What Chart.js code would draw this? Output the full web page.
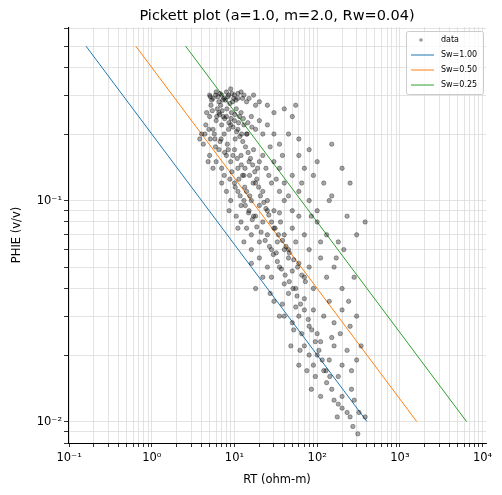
<!DOCTYPE html>
<html><head><meta charset="utf-8">
<script src="https://cdn.jsdelivr.net/npm/chart.js@4"></script>
<style>html,body{margin:0;padding:0;background:#fff}#w{width:502px;height:495px}</style>
</head><body><div id="w"><canvas id="c"></canvas></div>
<script>
const dataRT_PHIE = [
[5,0.3],[5.5,0.29],[6,0.31],[6.5,0.28],[7,0.3],[7.5,0.29],[8,0.31],[8.5,0.3],[9,0.32],[10,0.3],[11,0.29],[12,0.31],[13,0.3],[15,0.29],[17,0.3],[20,0.28],[25,0.27],[30,0.25],[40,0.26],[50,0.24],[55,0.27],[18,0.27],[14,0.28],[9.5,0.28],[6.8,0.27],[5.2,0.27],
[4,0.2],[4.5,0.22],[5,0.24],[5.5,0.21],[6,0.23],[6.5,0.25],[7,0.22],[7.5,0.2],[8,0.24],[9,0.22],[10,0.23],[11,0.21],[12,0.25],[13,0.22],[14,0.2],[16,0.24],[18,0.21],[20,0.23],[22,0.2],[25,0.22],[30,0.2],[35,0.18],[45,0.2],[60,0.19],[80,0.17],[100,0.15],[4.2,0.18],[3.8,0.19],[5.8,0.19],[8.5,0.21],[10.5,0.26],[6.2,0.26],[7.3,0.24],[9.2,0.25],[11.5,0.24],
[5,0.16],[6,0.15],[6.5,0.17],[7,0.14],[8,0.16],[9,0.15],[10,0.17],[11,0.14],[12,0.16],[13,0.13],[15,0.15],[17,0.17],[19,0.14],[22,0.16],[26,0.13],[30,0.15],[35,0.14],[40,0.12],[50,0.13],[70,0.14],[90,0.13],[120,0.12],[150,0.18],[200,0.14],[60,0.16],[5.5,0.14],[7.5,0.13],[4.8,0.15],
[7,0.12],[8,0.11],[9,0.1],[10,0.12],[11,0.11],[12,0.095],[13,0.1],[14,0.11],[15,0.09],[16,0.1],[18,0.12],[20,0.095],[22,0.11],[25,0.1],[28,0.12],[30,0.09],[35,0.11],[40,0.1],[50,0.09],[60,0.11],[80,0.1],[100,0.09],[150,0.105],[250,0.12],[380,0.08],[10.5,0.085],[12.5,0.13],[17,0.085],
[12,0.08],[14,0.075],[16,0.07],[18,0.085],[20,0.065],[22,0.08],[25,0.07],[28,0.06],[30,0.075],[33,0.065],[36,0.08],[40,0.07],[45,0.06],[50,0.075],[55,0.065],[60,0.085],[70,0.07],[80,0.06],[100,0.08],[130,0.07],[180,0.065],[230,0.085],[300,0.07],[25,0.09],[35,0.088],
[20,0.055],[25,0.05],[28,0.045],[32,0.058],[35,0.05],[40,0.042],[45,0.055],[50,0.048],[55,0.04],[60,0.052],[70,0.045],[80,0.05],[90,0.04],[110,0.055],[130,0.045],[160,0.05],[200,0.04],[280,0.045],[18,0.04],[16,0.06],[40,0.06],
[30,0.035],[40,0.03],[45,0.038],[50,0.028],[55,0.033],[60,0.03],[70,0.036],[80,0.027],[90,0.032],[100,0.025],[120,0.03],[140,0.035],[160,0.028],[200,0.032],[250,0.027],[300,0.03],[65,0.025],[35,0.03],[48,0.022],
[70,0.022],[80,0.02],[90,0.018],[100,0.02],[110,0.023],[120,0.017],[140,0.019],[160,0.022],[180,0.016],[200,0.018],[230,0.021],[260,0.017],[300,0.019],[130,0.015],[95,0.016],[75,0.017],[60,0.018],[150,0.024],
[150,0.014],[180,0.012],[200,0.013],[230,0.011],[250,0.0105],[280,0.0125],[320,0.011],[380,0.0105],[270,0.0095],[200,0.0115],[160,0.0125],
[5.3,0.285],[6.3,0.295],[7.8,0.285],[8.8,0.275],[9.8,0.29],[11,0.305],[6.6,0.245],[7.6,0.235],[8.6,0.225],[9.6,0.215],[10.6,0.205],[11.6,0.195],[12.6,0.185],[13.6,0.175],[14.6,0.165],[15.6,0.155],[16.6,0.145],[17.6,0.135],[18.6,0.125],[19.6,0.115],[20.6,0.105],[22.6,0.098],[24,0.092],[26,0.086],[28,0.08],[31,0.075],[34,0.07],[38,0.066],[42,0.062],[46,0.058],[52,0.054],[58,0.05],[65,0.046],[72,0.043],[14.2,0.2],[12.2,0.2],[10.2,0.19],[8.2,0.18],[6.9,0.19],[5.7,0.2],[4.9,0.21],[9.3,0.135],[11.3,0.125],[13.3,0.115],[15.3,0.105],
[5.1,0.295],[5.9,0.3],[6.7,0.305],[7.2,0.285],[8.3,0.295],[9.3,0.305],[10.4,0.285],[12.5,0.29],[4.6,0.25],[5.4,0.255],[6.1,0.24],[7.1,0.255],[8.1,0.26],[9.1,0.235],[10.1,0.245],[11.2,0.225],[12.8,0.235],[14.5,0.225],[16.2,0.215],[4.4,0.2],[5.1,0.19],[5.9,0.175],[6.7,0.185],[7.6,0.165],[8.4,0.17],[9.6,0.16],[10.8,0.155],[12.1,0.145],[13.4,0.14],[15.2,0.13],[16.8,0.12],[8.8,0.125],[10.2,0.115],[11.7,0.105],[13.5,0.095],[14.8,0.088],[16.4,0.082],[18.6,0.076],[21,0.072],[23.5,0.066],[26.5,0.062],[29.5,0.057],[33,0.053],[37,0.049],[41,0.046],[46,0.043],[51,0.04],[57,0.037],[63,0.034],[70,0.032],[78,0.029],[86,0.026],[95,0.023],[105,0.021],[115,0.019],[128,0.017],[142,0.016],[20,0.15],[24,0.14],[27,0.175],[32,0.125],[38,0.16],[45,0.105],[65,0.12],[85,0.085],[110,0.065],[140,0.1],[170,0.055],[210,0.06],[240,0.035],[190,0.025],[340,0.022],[260,0.014],[8.6,0.09],[11,0.075],[13,0.065],[16,0.052],[22,0.045],[27,0.038],[38,0.034],[52,0.026],[62,0.021],[85,0.014],[110,0.013],[175,0.0105],[310,0.0088]
];
const sw100 = [[0.16,0.5],[400,0.01]];
const sw050 = [[0.64,0.5],[1600,0.01]];
const sw025 = [[2.56,0.5],[6400,0.01]];
const seriesNames = ['data','Sw=1.00','Sw=0.50','Sw=0.25'];
const titleText = 'Pickett plot (a=1.0, m=2.0, Rw=0.04)';
const colors = ['#1f77b4','#ff7f0e','#2ca02c'];
const sup = {'-':'⁻','0':'⁰','1':'¹','2':'²','3':'³','4':'⁴'};
const fmt = v => { const l = Math.log10(v); if (Math.abs(l-Math.round(l))>1e-9) return ''; return '10' + String(Math.round(l)).split('').map(c=>sup[c]).join(''); };
const logTicks = s => { const t=[]; for(let k=-4;k<=5;k++) for(let m=1;m<=9;m++){ const v=+(m*Math.pow(10,k)).toPrecision(6); if(v>=s.min&&v<=s.max) t.push({value:v}); } s.ticks=t; };
const toXY = a => a.map(p=>({x:p[0],y:p[1]}));
const font = "'DejaVu Sans', sans-serif";
Chart.defaults.font.family = font;
Chart.defaults.color = '#000';

const legendPlugin = {id:'lg', afterDraw(ch){
  const c=ch.ctx, a=ch.chartArea; const w=77,h=63,x=a.right-w-3,y=a.top+4;
  c.save(); c.fillStyle='rgba(255,255,255,0.8)'; c.strokeStyle='#ccc'; c.lineWidth=1;
  c.beginPath(); c.roundRect(x+0.5,y+0.5,w,h,2); c.fill(); c.stroke();
  c.font='8px '+font; c.textBaseline='middle'; c.fillStyle='#000';
  seriesNames.forEach((n,i)=>{ const yy=y+9+i*15;
    if(i===0){ c.fillStyle='rgba(0,0,0,0.4)'; c.beginPath(); c.arc(x+15,yy,1.8,0,7); c.fill(); }
    else { c.strokeStyle=colors[i-1]; c.lineWidth=1; c.beginPath(); c.moveTo(x+5,yy); c.lineTo(x+28,yy); c.stroke(); }
    c.fillStyle='#000'; c.fillText(n,x+35,yy);
  });
  c.font='14.5px '+font; c.textAlign='center'; c.textBaseline='alphabetic';
  c.fillText(titleText,(a.left+a.right)/2,a.top-7);
  c.restore(); }};

const lineDs = (arr,i)=>({type:'line',label:seriesNames[i+1],data:toXY(arr),borderColor:colors[i],borderWidth:1,pointRadius:0,fill:false,showLine:true});
new Chart(document.getElementById('c'),{
  type:'scatter',
  data:{datasets:[
    {label:'data',data:toXY(dataRT_PHIE),pointRadius:2.2,backgroundColor:'rgba(0,0,0,0.35)',borderColor:'rgba(0,0,0,0.45)',borderWidth:0.7},
    lineDs(sw100,0),lineDs(sw050,1),lineDs(sw025,2)
  ]},
  plugins:[legendPlugin],
  options:{responsive:true,maintainAspectRatio:false,animation:false,
    layout:{padding:{left:6,right:16,top:27,bottom:0}},
    plugins:{legend:{display:false},tooltip:{enabled:false},title:{display:false}},
    scales:{
      x:{type:'logarithmic',min:0.097,max:11000,
        afterBuildTicks:logTicks,
        afterFit:s=>{s.height=52;},
        title:{display:true,text:'RT (ohm-m)',font:{size:11.5},padding:{top:0,bottom:8}},
        grid:{color:'#dcdcdc',lineWidth:0.8,tickLength:4,tickColor:'#000'},border:{color:'#000'},
        ticks:{autoSkip:false,maxRotation:0,callback:v=>fmt(v),font:{size:11.5},padding:4}},
      y:{type:'logarithmic',min:0.008,max:0.61,
        afterBuildTicks:logTicks,
        afterFit:s=>{s.width=62;},
        title:{display:true,text:'PHIE (v/v)',font:{size:11.5},padding:{bottom:2}},
        grid:{color:'#dcdcdc',lineWidth:0.8,tickLength:4,tickColor:'#000'},border:{color:'#000'},
        ticks:{autoSkip:false,callback:v=>fmt(v),font:{size:11.5},padding:2}}
    }}
});
</script></body></html>
